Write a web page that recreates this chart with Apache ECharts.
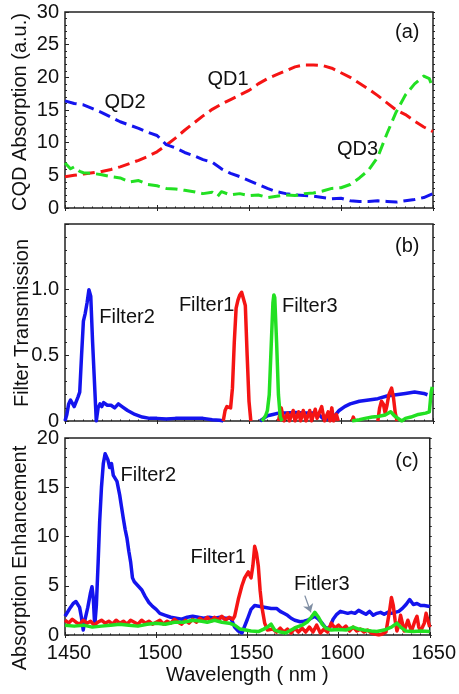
<!DOCTYPE html>
<html><head><meta charset="utf-8">
<script src="https://cdn.jsdelivr.net/npm/echarts@6/dist/echarts.min.js"></script>
<style>html,body{margin:0;padding:0;background:#fff}#c{width:459px;height:694px}</style>
</head><body><div id="c"></div>
<script>
// ---- data (wavelength nm, value) ----
const xTicks = [1450, 1500, 1550, 1600, 1650];
const qd1 = [[1450,4.8],[1455,5.0],[1460,5.2],[1465,5.4],[1470,5.6],[1475,5.9],[1480,6.3],[1485,6.8],[1490,7.3],[1495,7.9],[1500,8.6],[1505,9.6],[1510,10.7],[1515,11.9],[1520,13.0],[1525,14.1],[1530,15.1],[1535,15.9],[1540,16.6],[1545,17.3],[1550,18.0],[1555,19.0],[1560,19.8],[1565,20.4],[1570,21.0],[1575,21.6],[1580,21.9],[1585,21.9],[1590,21.8],[1595,21.4],[1600,20.7],[1605,20.0],[1610,19.1],[1615,18.2],[1620,17.2],[1625,16.1],[1630,15.0],[1635,14.3],[1640,13.3],[1645,12.4],[1650,11.7]];
const qd2 = [[1450,16.4],[1455,16.0],[1460,15.8],[1465,15.2],[1470,14.6],[1475,13.9],[1480,13.2],[1485,12.7],[1490,12.2],[1495,11.6],[1500,11.1],[1505,9.7],[1510,9.2],[1515,8.5],[1520,8.0],[1525,7.4],[1530,7.0],[1535,6.0],[1540,5.3],[1545,4.8],[1550,4.2],[1555,3.6],[1560,3.0],[1565,2.5],[1570,2.2],[1575,2.0],[1580,1.9],[1585,1.8],[1590,1.6],[1595,1.4],[1600,1.5],[1605,1.1],[1610,1.0],[1615,1.0],[1620,1.1],[1625,1.0],[1630,0.9],[1635,1.1],[1640,1.3],[1645,1.6],[1650,2.2]];
const qd3 = [[1450,6.9],[1453,6.0],[1455,6.3],[1458,5.6],[1460,5.4],[1465,5.3],[1470,5.1],[1475,4.8],[1480,4.6],[1485,4.0],[1490,4.2],[1495,3.6],[1500,3.4],[1505,3.0],[1510,2.9],[1515,2.7],[1520,2.5],[1525,2.2],[1530,2.4],[1533,1.8],[1535,2.5],[1540,2.0],[1545,2.2],[1550,1.9],[1555,2.0],[1560,1.6],[1565,1.8],[1570,2.0],[1575,1.9],[1580,2.2],[1585,2.3],[1590,2.6],[1595,3.0],[1600,3.1],[1605,3.6],[1610,4.6],[1615,5.8],[1620,7.8],[1625,11.4],[1630,14.7],[1635,17.3],[1640,19.0],[1645,20.2],[1648,19.8],[1650,18.3]];

const trans2 = [[1450,0],[1451,0.05],[1452,0.13],[1453,0.16],[1454,0.15],[1455,0.11],[1456,0.1],[1457,0.18],[1458,0.22],[1459,0.5],[1460,0.76],[1461,0.82],[1462,0.9],[1463,1.0],[1464,0.95],[1465,0.6],[1466,0.3],[1467,0],[1468,0.1],[1469,0.13],[1470,0.11],[1471,0.14],[1473,0.12],[1475,0.12],[1477,0.1],[1479,0.13],[1481,0.11],[1484,0.08],[1488,0.05],[1492,0.03],[1496,0.02],[1500,0.02],[1505,0.015],[1510,0.02],[1515,0.02],[1520,0.02],[1525,0.02],[1530,0.01],[1534,0.005],[1536,0],['-','-'],[1556,0],[1558,0.02],[1560,0.04],[1563,0.05],[1566,0.06],[1570,0.06],[1575,0.065],[1580,0.06],[1585,0.06],[1588,0.05],[1590,0.02],[1593,0.015],[1596,0.03],[1599,0.08],[1602,0.11],[1605,0.13],[1610,0.15],[1615,0.16],[1620,0.17],[1625,0.19],[1630,0.2],[1635,0.21],[1640,0.22],[1645,0.21],[1647,0.2]];
const trans1 = [[1536,0],[1537,0.08],[1538,0.11],[1539,0.12],[1540,0.1],[1541,0.25],[1542,0.6],[1543,0.86],[1544,0.92],[1545,0.96],[1546,0.98],[1547,0.97],[1548,0.88],[1549,0.5],[1550,0.15],[1551,0],['-','-'],[1566,0],[1567.5,0.1],[1569,0],[1571,0.06],[1572,0],[1574,0.08],[1575,0],[1577,0.07],[1578,0],[1579.5,0.08],[1581,0],[1583,0.08],[1584,0],[1586,0.09],[1587,0.02],[1589.5,0.11],[1591,0],[1593,0.07],[1594,0],[1595,0.1],[1596,0],[1597.5,0.05],[1598.5,0],['-','-'],[1606,0],[1606.7,0.03],[1607.5,0],['-','-'],[1620,0],[1621,0.1],[1622,0.15],[1623,0.13],[1624,0.06],[1625,0.12],[1626,0.2],[1627.5,0.25],[1628.5,0.18],[1629.5,0.06],[1630.5,0]];
const trans3 = [[1557,0],[1559,0.04],[1560,0.08],[1561,0.2],[1562,0.55],[1563,0.9],[1563.5,0.96],[1564,0.94],[1565,0.6],[1566,0.2],[1567,0.03],[1568,0],['-','-'],[1606,0],[1610,0.01],[1613,0.02],[1617,0.03],[1620,0.035],[1624,0.045],[1627,0.07],[1628,0.08],[1629,0.04],[1631,0.02],[1633,0],[1635,0.02],[1638,0.03],[1642,0.05],[1646,0.06],[1648,0.07],[1649,0.22],[1649.6,0.26]];

const enh2 = [[1450,1.9],[1451,2.0],[1453,2.8],[1454.5,3.2],[1456,3.4],[1458,2.8],[1459,1.8],[1460,0.5],[1461,1.6],[1462.5,2.8],[1464,4.3],[1464.8,4.9],[1465.5,3.8],[1466.3,0.9],[1467.2,3.0],[1468.2,7.5],[1469,11.5],[1470,15.0],[1471,17.4],[1472,18.4],[1472.7,18.6],[1473.5,17.8],[1474.5,17.0],[1475.5,17.4],[1476.5,16.2],[1477.5,16.4],[1478.5,15.6],[1480,14.2],[1481,13.0],[1482,11.8],[1483,10.7],[1484,9.8],[1485,8.5],[1486,7.4],[1487,5.8],[1488,5.4],[1490,5.0],[1492,4.6],[1494,3.9],[1496,3.3],[1498,2.9],[1500,2.6],[1502,2.2],[1505,2.0],[1508,1.8],[1511,1.7],[1514,1.6],[1517,1.8],[1520,1.9],[1523,1.8],[1526,1.7],[1529,1.8],[1532,1.7],[1535,1.8],[1538,1.7],[1541,1.7],[1543,0.8],[1545,0.4],[1547,0.2],[1548,0.3],[1550,1.6],[1552,2.6],[1554,3.0],[1557,2.9],[1560,2.8],[1563,2.7],[1566,2.7],[1568,2.4],[1570,2.2],[1572,2.0],[1574,1.7],[1576,1.5],[1579,1.35],[1581,1.4],[1583,1.5],[1585,1.7],[1587,1.9],[1589,1.6],[1591,1.2],[1593,0.7],[1595,0.7],[1597,1.6],[1599,2.1],[1601,2.4],[1603,2.3],[1605,2.2],[1607,2.3],[1609,2.2],[1611,2.5],[1613,2.3],[1615,2.1],[1617,2.4],[1619,2.0],[1621,2.2],[1623,2.3],[1625,2.1],[1627,2.3],[1629,2.2],[1631,2.3],[1633,2.4],[1635,2.7],[1637,3.1],[1639,3.6],[1641,3.1],[1643,3.2],[1645,3.0],[1647,3.0],[1650,2.9]];
const enh1 = [[1450,1.5],[1452,1.2],[1454,1.6],[1456,1.3],[1458,1.1],[1460,1.5],[1462,1.2],[1464,1.4],[1466,1.0],[1468,1.3],[1470,1.5],[1472,1.2],[1474,1.4],[1476,1.1],[1478,1.5],[1480,1.2],[1482,1.4],[1484,1.1],[1486,1.5],[1488,1.3],[1490,1.1],[1492,1.5],[1494,1.2],[1496,1.4],[1498,1.1],[1500,1.3],[1502,1.5],[1504,1.1],[1506,1.4],[1508,1.2],[1510,1.6],[1512,1.3],[1514,1.1],[1516,1.5],[1518,1.2],[1520,1.6],[1522,1.3],[1524,1.7],[1526,1.4],[1528,1.8],[1530,1.4],[1532,1.8],[1534,1.5],[1536,1.9],[1538,1.5],[1540,1.8],[1542,1.6],[1543,1.9],[1545,3.6],[1547,5.0],[1548.5,5.8],[1550.5,6.4],[1552,5.8],[1553,7.0],[1554,9.0],[1555,8.3],[1556,7.0],[1557,4.5],[1558,2.8],[1559.5,1.2],[1561,0.5],[1562,0.3],[1564,0.6],[1566,0.3],[1568,0.7],[1570,0.3],[1572,0.6],[1574,0.2],[1576,0.7],[1578,0.3],[1580,0.7],[1582,0.3],[1584,0.8],[1586,0.3],[1588,1.0],[1590,0.2],[1592,0.6],[1594,0.3],[1596,1.2],[1598,0.7],[1600,1.0],[1602,0.6],[1604,0.9],[1606,0.4],[1608,0.8],[1610,0.4],[1612,0.6],[1614,0.3],[1616,0.5],[1618,0.2],[1620,0.1],[1622,0.0],[1624,0.1],[1626,0.3],[1628,2.5],[1629,3.8],[1630,3.0],[1631,1.5],[1632,0.4],[1633,1.0],[1634,2.0],[1635,1.2],[1636,0.4],[1638,1.5],[1639,0.9],[1640,0.4],[1642,1.5],[1643,1.9],[1644,0.8],[1645,0.4],[1646,0.3],[1647,1.2],[1648,2.2],[1649,1.5],[1650,0.8]];
const enh3 = [[1450,1.0],[1455,0.9],[1460,1.0],[1465,0.8],[1470,0.9],[1475,1.0],[1480,1.1],[1485,1.0],[1490,0.9],[1495,1.1],[1500,1.2],[1505,1.1],[1510,1.3],[1515,1.3],[1520,1.5],[1525,1.4],[1528,1.3],[1532,1.5],[1536,1.3],[1540,1.2],[1543,1.0],[1546,0.6],[1549,0.5],[1552,0.4],[1556,0.35],[1559,0.6],[1561,0.8],[1563,1.1],[1565,0.5],[1568,0.3],[1571,0.2],[1574,0.5],[1577,0.8],[1580,1.0],[1583,1.35],[1585,1.8],[1587,2.3],[1589,1.8],[1591,1.1],[1593,0.7],[1596,0.5],[1600,0.55],[1604,0.5],[1608,0.8],[1611,0.6],[1614,0.5],[1618,0.4],[1621,0.35],[1625,0.5],[1629,0.8],[1632,1.2],[1634,0.8],[1637,0.4],[1641,0.35],[1645,0.4],[1650,0.35]];

// annotation text anchors (data coords)
const labelsA = [['QD2',1482.6,16.1],['QD1',1538.6,19.6],['QD3',1609,8.9],['(a)',1636,26.8]];
const labelsB = [['Filter2',1483.7,0.79],['Filter1',1527,0.88],['Filter3',1583,0.87],['(b)',1636,1.33]];
const labelsC = [['Filter2',1495.7,16.2],['Filter1',1534,7.9],['Fitler3',1590.8,5.1],['(c)',1637.5,17.6]];
const arrowC = [[1581.5,4.0],[1584.8,2.3]];

// ---- chart ----
const FONT = "'Liberation Sans', Arial, sans-serif";
const RED = '#f51414', BLUE = '#1414ee', GREEN = '#22e022';
const grids = [
  {left:65, top:12, width:368, height:196},
  {left:65, top:224, width:368, height:197},
  {left:65, top:438, width:368, height:197}
];
const yRanges = [{min:0,max:30,interval:5},{min:0,max:1.5,interval:0.5},{min:0,max:20,interval:5}];

const xAxis = [], yAxis = [];
grids.forEach((g, i) => {
  const last = i === 2;
  xAxis.push({type:'value', gridIndex:i, min:xTicks[0], max:xTicks[xTicks.length-1], interval:50, position:'bottom',
    axisLine:{show:false}, splitLine:{show:false},
    axisTick:{show:true, inside:true, length:3, lineStyle:{color:'#222', width:1}},
    minorTick:{show:true, splitNumber:10, length:1.5, lineStyle:{color:'#222'}},
    axisLabel:{show:last, fontSize:20, color:'#111', fontFamily:FONT, margin:8, padding:[0,0,0,8],
      formatter: v => String(v)},
    name: last ? 'Wavelength ( nm )' : '', nameLocation:'middle', nameGap:30,
    nameTextStyle:{fontSize:20, color:'#111', fontFamily:FONT}});
  xAxis.push({type:'value', gridIndex:i, min:xTicks[0], max:xTicks[xTicks.length-1], interval:50, position:'top',
    axisLine:{show:false}, splitLine:{show:false}, axisLabel:{show:false},
    axisTick:{show:true, inside:true, length:3, lineStyle:{color:'#222'}}});
  const r = yRanges[i];
  yAxis.push({type:'value', gridIndex:i, min:r.min, max:r.max, interval:r.interval, position:'left',
    axisLine:{show:false}, splitLine:{show:false},
    axisTick:{show:true, inside:true, length:4, lineStyle:{color:'#222'}},
    minorTick:{show:true, splitNumber:5, length:2, lineStyle:{color:'#222'}},
    axisLabel:{show:true, fontSize:20, color:'#111', fontFamily:FONT, margin:6,
      formatter: i===1 ? (v => v===0 ? '0' : (v>=1.5 ? '' : v.toFixed(1))) : (v => String(v))}});
  yAxis.push({type:'value', gridIndex:i, min:r.min, max:r.max, interval:r.interval, position:'right',
    axisLine:{show:false}, splitLine:{show:false}, axisLabel:{show:false},
    axisTick:{show:true, inside:false, length:2, lineStyle:{color:'#222'}},
    minorTick:{show:true, splitNumber:5, length:2, lineStyle:{color:'#222'}}});
});

function marks(list){
  return {silent:true, symbol:'circle', symbolSize:0, animation:false,
    label:{show:true, position:'inside', formatter:'{b}', fontSize:20, color:'#111', fontFamily:FONT},
    data: list.map(l => ({name:l[0], coord:[l[1], l[2]]}))};
}
function ser(data, color, panel, dashed, extra){
  return Object.assign({type:'line', data, xAxisIndex:panel*2, yAxisIndex:panel*2,
    showSymbol:false, symbol:'none', connectNulls:false, animation:false, silent:true,
    lineStyle:{color, width: dashed ? 3 : 3.5, type: dashed ? [12,6] : 'solid', cap:'butt', join:'round'},
    z: 2}, extra || {});
}

const series = [
  ser(qd1, RED, 0, true, {markPoint: marks(labelsA)}),
  ser(qd2, BLUE, 0, true),
  ser(qd3, GREEN, 0, true),
  ser(trans2, BLUE, 1, false, {markPoint: marks(labelsB)}),
  ser(trans1, RED, 1, false),
  ser(trans3, GREEN, 1, false),
  ser(enh2, BLUE, 2, false, {markPoint: marks(labelsC)}),
  ser(enh1, RED, 2, false),
  ser(enh3, GREEN, 2, false, {markLine:{silent:true, animation:false, symbol:['none','arrow'], symbolSize:8,
    lineStyle:{color:'#7f8ea3', width:1.3, type:'solid'}, label:{show:false},
    data:[[{coord:arrowC[0]},{coord:arrowC[1]}]]}})
];

const yNames = [
  {text:'CQD Absorption (a.u.)', x:20, y:112},
  {text:'Filter Transmission', x:22, y:323},
  {text:'Absorption Enhancement', x:20, y:558}
];

const chart = echarts.init(document.getElementById('c'), null, {renderer:'canvas'});
chart.setOption({
  animation:false,
  backgroundColor:'#fff',
  grid: grids.map(g => Object.assign({show:true, borderColor:'#222', borderWidth:1.5, backgroundColor:'transparent'}, g)),
  xAxis, yAxis, series,
  graphic: yNames.map(n => ({type:'text', x:n.x, y:n.y, rotation:Math.PI/2, silent:true,
    style:{text:n.text, fontSize:20, fontFamily:FONT, fill:'#111', align:'center', verticalAlign:'middle'}}))
});
</script></body></html>
